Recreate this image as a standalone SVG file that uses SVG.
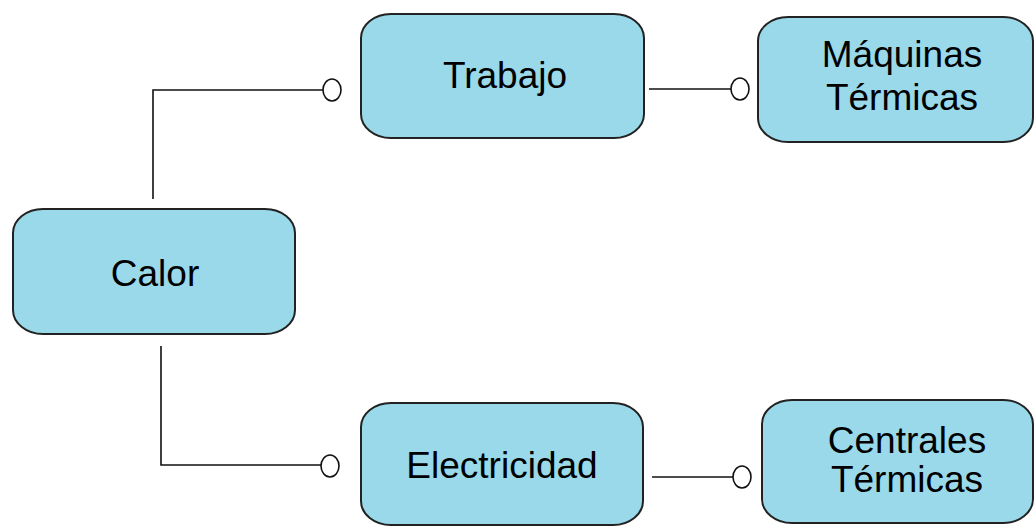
<svg xmlns="http://www.w3.org/2000/svg" width="1035" height="527" viewBox="0 0 1035 527">
  <style>
    .box { fill: #99D9EA; stroke: #222; stroke-width: 2; }
    .label { font-family: "Liberation Sans", Arial, sans-serif; font-size: 37px; fill: #000; text-anchor: middle; }
    .wire { fill: none; stroke: #111; stroke-width: 1.6; }
    .end { fill: #fff; stroke: #111; stroke-width: 1.6; }
  </style>
  <rect width="1035" height="527" fill="#fff"/>

  <g id="connectors">
    <polyline class="wire" points="153,199 153,90 323,90"/>
    <ellipse class="end" cx="332" cy="90" rx="9" ry="11"/>
    <polyline class="wire" points="161,346 161,465 321,465"/>
    <ellipse class="end" cx="330" cy="466" rx="9" ry="11"/>
    <line class="wire" x1="649" y1="89" x2="731" y2="89"/>
    <ellipse class="end" cx="740" cy="89" rx="9" ry="11"/>
    <line class="wire" x1="652" y1="477" x2="733" y2="477"/>
    <ellipse class="end" cx="742" cy="477" rx="9" ry="11"/>
  </g>

  <g id="calor">
    <rect class="box" x="13" y="209" width="282" height="125" rx="30" ry="24"/>
    <text class="label" x="155" y="286">Calor</text>
  </g>

  <g id="trabajo">
    <rect class="box" x="361" y="14" width="283" height="124" rx="30" ry="24"/>
    <text class="label" x="505" y="88">Trabajo</text>
  </g>

  <g id="maquinas">
    <rect class="box" x="758" y="17" width="275" height="125" rx="30" ry="24"/>
    <text class="label" x="902" y="67">Máquinas</text>
    <text class="label" x="902" y="110">Térmicas</text>
  </g>

  <g id="electricidad">
    <rect class="box" x="361" y="403" width="282" height="122" rx="30" ry="24"/>
    <text class="label" x="502" y="478">Electricidad</text>
  </g>

  <g id="centrales">
    <rect class="box" x="762" y="400" width="271" height="123" rx="30" ry="24"/>
    <text class="label" x="907" y="453">Centrales</text>
    <text class="label" x="907" y="492">Térmicas</text>
  </g>
</svg>
